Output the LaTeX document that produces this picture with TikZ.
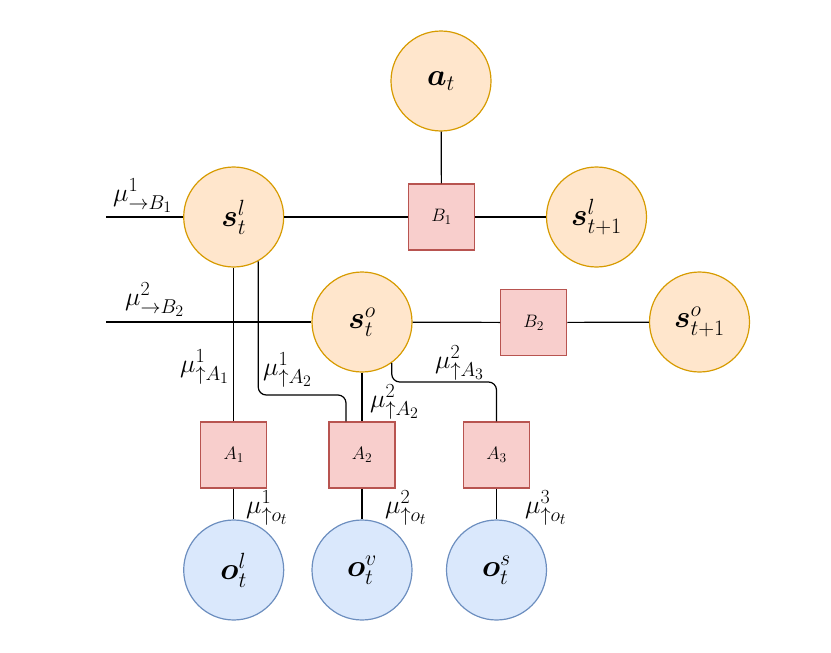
\RequirePackage{fix-cm}
\documentclass[tikz,border=0pt]{standalone}
\usepackage{amsmath,bm}
\DeclareMathSizes{31}{31}{22}{17}
\DeclareMathSizes{26}{26}{20}{16}
\DeclareMathSizes{18}{18}{13.5}{11}
\definecolor{ofill}{HTML}{FFE6CC}
\definecolor{oline}{HTML}{D79B00}
\definecolor{rfill}{HTML}{F8CECC}
\definecolor{rline}{HTML}{B85450}
\definecolor{bfill}{HTML}{DAE8FC}
\definecolor{bline}{HTML}{6C8EBF}
\tikzset{
  var/.style={circle, draw=oline, fill=ofill, line width=1.2pt, minimum size=100pt, inner sep=0pt, font=\fontsize{31}{34}\selectfont},
  obs/.style={var, draw=bline, fill=bfill},
  fac/.style={rectangle, draw=rline, fill=rfill, line width=1.2pt, minimum size=66pt, inner sep=0pt, font=\fontsize{18}{20}\selectfont},
  edge/.style={line width=1.2pt, black},
  msg/.style={anchor=west, inner sep=0pt, font=\fontsize{26}{28}\selectfont},
}
\begin{document}
\begin{tikzpicture}[x=1pt,y=-1pt]
\useasboundingbox (0,0) rectangle (831,653);
% nodes
\node[var] (at) at (441,81) {$\bm{a}_t$};
\node[var] (sl) at (233.7,217) {$\bm{s}^l_t$};
\node[fac] (B1) at (441.5,217) {$B_1$};
\node[var] (slp) at (596.5,217) {$\bm{s}^l_{t+1}$};
\node[var] (so) at (362,322) {$\bm{s}^o_t$};
\node[fac] (B2) at (533.7,322.5) {$B_2$};
\node[var] (sop) at (699.5,322) {$\bm{s}^o_{t+1}$};
\node[fac] (A1) at (233.7,455) {$A_1$};
\node[fac] (A2) at (362,455) {$A_2$};
\node[fac] (A3) at (496.5,455) {$A_3$};
\node[obs] (ol) at (233.7,570) {$\bm{o}^l_t$};
\node[obs] (ov) at (362,570) {$\bm{o}^v_t$};
\node[obs] (os) at (496.5,570) {$\bm{o}^s_t$};
\coordinate (in1) at (106,217);
\coordinate (in2) at (106,322);
\coordinate (k1) at (300,395);
\coordinate (k2) at (440,382);
% edges
\draw[edge] (in1) -- (sl);
\draw[edge] (sl) -- (B1);
\draw[edge] (B1) -- (slp);
\draw[edge] (at) -- (B1);
\draw[edge] (in2) -- (so);
\draw[edge] (so) -- (B2);
\draw[edge] (B2) -- (sop);
\draw[edge] (sl) -- (A1);
\draw[edge, rounded corners=8pt] (sl.-61) |- (k1) -| ([xshift=-16pt]A2.north);
\draw[edge] (so) -- (A2);
\draw[edge, rounded corners=8pt] (so.-54.5) |- (k2) -| (A3.north);
\draw[edge] (A1) -- (ol);
\draw[edge] (A2) -- (ov);
\draw[edge] (A3) -- (os);
% messages
\node[msg] (m1) at (113,196) {$\mu^1_{\rightarrow B_1}$};
\node[msg] (m2) at (125,300) {$\mu^2_{\rightarrow B_2}$};
\node[msg] (m3) at (180,367) {$\mu^1_{\uparrow A_1}$};
\node[msg] (m4) at (263,370) {$\mu^1_{\uparrow A_2}$};
\node[msg] (m5) at (370,402) {$\mu^2_{\uparrow A_2}$};
\node[msg] (m6) at (435,363) {$\mu^2_{\uparrow A_3}$};
\node[msg] (m7) at (246,508) {$\mu^1_{\uparrow o_t}$};
\node[msg] (m8) at (385,508) {$\mu^2_{\uparrow o_t}$};
\node[msg] (m9) at (525,508) {$\mu^3_{\uparrow o_t}$};
\end{tikzpicture}
\end{document}
